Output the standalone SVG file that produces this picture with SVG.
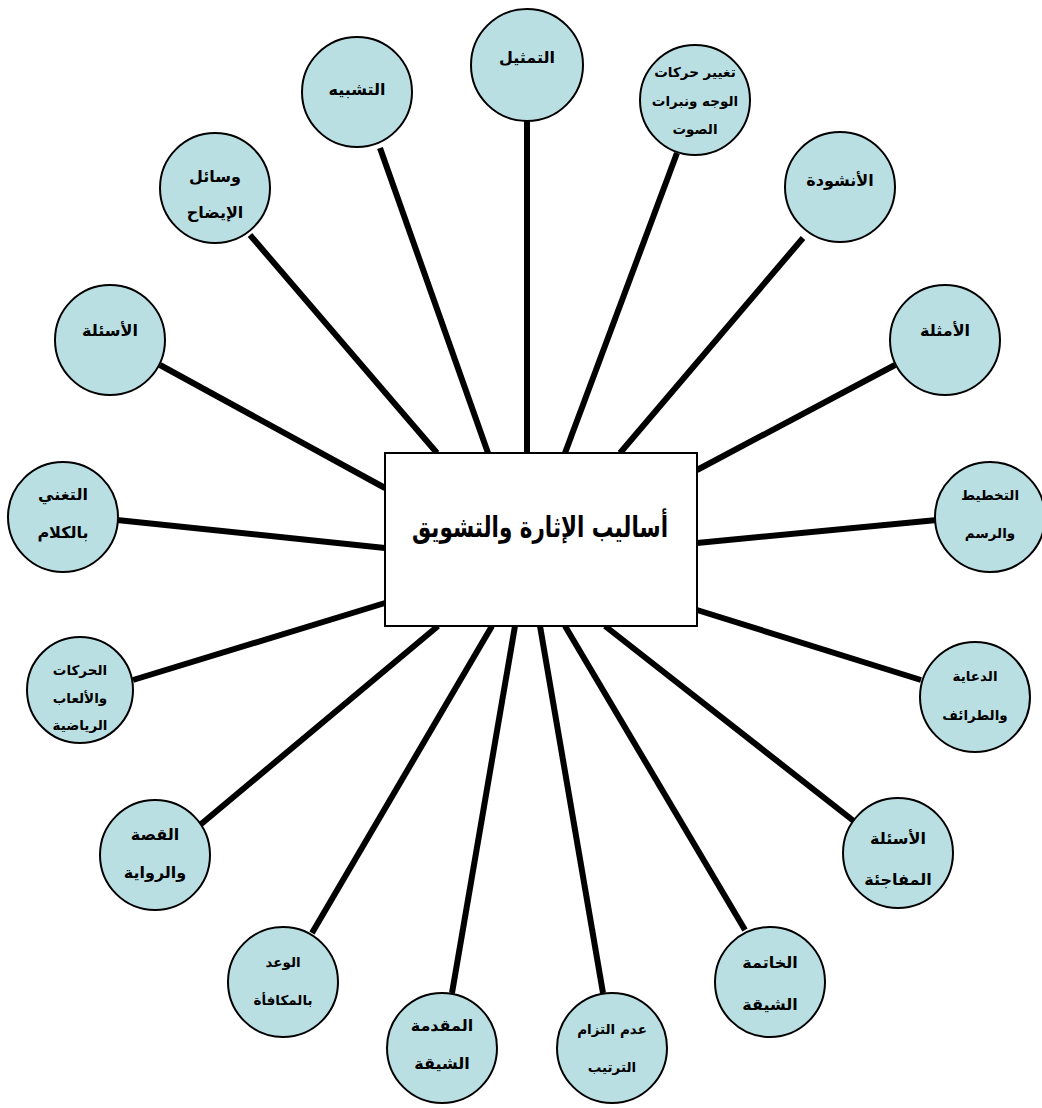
<svg xmlns="http://www.w3.org/2000/svg" width="1042" height="1108" viewBox="0 0 1042 1108">
<style>
.c{fill:#badfe3;stroke:#000;stroke-width:2}
.t{font-family:"DejaVu Sans",sans-serif;font-weight:bold;font-size:16px;text-anchor:middle;fill:#000}
.s{font-size:13.5px}
.l{stroke:#000;stroke-width:6;stroke-linecap:butt}
</style>
<rect width="1042" height="1108" fill="#fff"/>
<g id="connectors">
<line class="l" x1="527" y1="120" x2="527" y2="453"/>
<line class="l" x1="380" y1="148" x2="488" y2="453"/>
<line class="l" x1="677" y1="153" x2="565" y2="453"/>
<line class="l" x1="250" y1="235" x2="437" y2="453"/>
<line class="l" x1="803" y1="238" x2="620" y2="453"/>
<line class="l" x1="160" y1="365" x2="385" y2="488"/>
<line class="l" x1="895" y1="365" x2="697" y2="470"/>
<line class="l" x1="117" y1="520" x2="385" y2="548"/>
<line class="l" x1="937" y1="520" x2="697" y2="543"/>
<line class="l" x1="133" y1="680" x2="385" y2="603"/>
<line class="l" x1="921" y1="680" x2="697" y2="610"/>
<line class="l" x1="200" y1="825" x2="438" y2="626"/>
<line class="l" x1="855" y1="822" x2="605" y2="626"/>
<line class="l" x1="312" y1="933" x2="492" y2="626"/>
<line class="l" x1="745" y1="930" x2="565" y2="626"/>
<line class="l" x1="452" y1="993" x2="515" y2="626"/>
<line class="l" x1="603" y1="993" x2="540" y2="626"/>
</g>
<g id="center">
<rect x="385" y="453" width="312" height="173" fill="#fff" stroke="#000" stroke-width="2"/>
<text x="540" y="537" class="t" style="font-size:29px" direction="rtl" textLength="256" lengthAdjust="spacingAndGlyphs">أساليب الإثارة والتشويق</text>
</g>
<g id="n1"><circle class="c" cx="527" cy="65" r="56"/><text class="t" x="527" y="63" direction="rtl">التمثيل</text></g>
<g id="n2"><circle class="c" cx="357" cy="92" r="55"/><text class="t" x="357" y="95" direction="rtl">التشبيه</text></g>
<g id="n3"><circle class="c" cx="695" cy="100" r="55"/><text class="t s" x="695" y="77" direction="rtl">تغيير حركات</text><text class="t s" x="695" y="106" direction="rtl">الوجه ونبرات</text><text class="t s" x="695" y="134" direction="rtl">الصوت</text></g>
<g id="n4"><circle class="c" cx="215" cy="188" r="55"/><text class="t" x="215" y="182" direction="rtl">وسائل</text><text class="t" x="215" y="218" direction="rtl">الإيضاح</text></g>
<g id="n5"><circle class="c" cx="840" cy="187" r="55"/><text class="t" x="840" y="186" direction="rtl">الأنشودة</text></g>
<g id="n6"><circle class="c" cx="110" cy="340" r="55"/><text class="t" x="110" y="336" direction="rtl">الأسئلة</text></g>
<g id="n7"><circle class="c" cx="945" cy="340" r="55"/><text class="t" x="945" y="336" direction="rtl">الأمثلة</text></g>
<g id="n8"><circle class="c" cx="63" cy="517" r="55"/><text class="t" x="63" y="500" direction="rtl">التغني</text><text class="t" x="63" y="538" direction="rtl">بالكلام</text></g>
<g id="n9"><circle class="c" cx="990" cy="517" r="55"/><text class="t s" x="990" y="500" direction="rtl">التخطيط</text><text class="t s" x="990" y="538" direction="rtl">والرسم</text></g>
<g id="n10"><circle class="c" cx="80" cy="690" r="53"/><text class="t s" x="80" y="675" direction="rtl">الحركات</text><text class="t s" x="80" y="703" direction="rtl">والألعاب</text><text class="t s" x="80" y="730" direction="rtl">الرياضية</text></g>
<g id="n11"><circle class="c" cx="975" cy="697" r="55"/><text class="t s" x="975" y="681" direction="rtl">الدعاية</text><text class="t s" x="975" y="720" direction="rtl">والطرائف</text></g>
<g id="n12"><circle class="c" cx="155" cy="855" r="55"/><text class="t" x="155" y="840" direction="rtl">القصة</text><text class="t" x="155" y="878" direction="rtl">والرواية</text></g>
<g id="n13"><circle class="c" cx="898" cy="853" r="55"/><text class="t" x="898" y="844" direction="rtl">الأسئلة</text><text class="t" x="898" y="885" direction="rtl">المفاجئة</text></g>
<g id="n14"><circle class="c" cx="283" cy="982" r="55"/><text class="t s" x="283" y="967" direction="rtl">الوعد</text><text class="t s" x="283" y="1005" direction="rtl">بالمكافأة</text></g>
<g id="n15"><circle class="c" cx="770" cy="982" r="55"/><text class="t" x="770" y="968" direction="rtl">الخاتمة</text><text class="t" x="770" y="1010" direction="rtl">الشيقة</text></g>
<g id="n16"><circle class="c" cx="442" cy="1048" r="55"/><text class="t" x="442" y="1031" direction="rtl">المقدمة</text><text class="t" x="442" y="1069" direction="rtl">الشيقة</text></g>
<g id="n17"><circle class="c" cx="612" cy="1048" r="55"/><text class="t s" x="612" y="1034" direction="rtl">عدم التزام</text><text class="t s" x="612" y="1072" direction="rtl">الترتيب</text></g>
</svg>
